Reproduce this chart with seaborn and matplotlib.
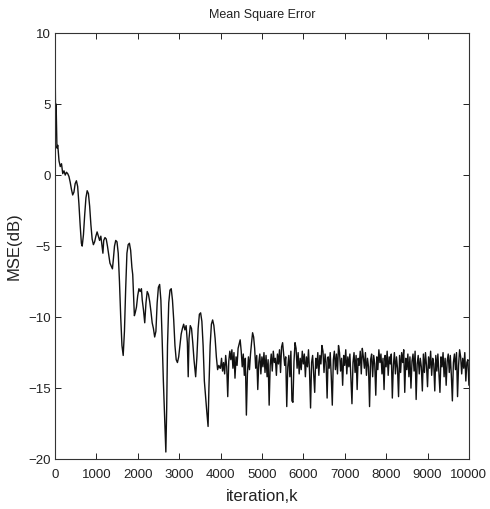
import numpy as np
import pandas as pd
import seaborn as sns
import matplotlib.pyplot as plt

# early part of the learning curve
early_k = [0, 10, 20, 30, 50, 70, 100, 130, 160, 190, 220, 250, 280, 310, 340, 370,
           400, 430, 460, 490, 520, 550, 580, 610, 640, 660, 690, 720, 750, 780, 810,
           840, 870, 900, 930, 960, 990, 1020, 1050, 1080, 1110, 1140, 1160, 1180,
           1210, 1240, 1270, 1300, 1330, 1360, 1390, 1410, 1440, 1470, 1500, 1530,
           1560, 1590, 1620, 1650, 1680, 1710, 1740, 1770, 1800, 1830, 1860, 1880,
           1900, 1920, 1940, 1970, 2000, 2030, 2060, 2090, 2110, 2140, 2170, 2200,
           2230, 2260, 2290, 2320, 2350, 2380, 2410, 2440, 2470, 2500, 2530, 2560,
           2590, 2620, 2650, 2680, 2700, 2720, 2750, 2780, 2810, 2840, 2870, 2900,
           2930, 2960, 2990, 3020, 3050, 3080, 3110, 3140, 3170, 3200, 3220, 3240,
           3270, 3300, 3330, 3360, 3400, 3430, 3460, 3490, 3520, 3550, 3580, 3610,
           3640, 3670, 3700, 3720, 3750, 3780, 3810, 3840, 3870, 3900, 3930, 3960, 3990]
early_mse = [2.0, 6.3, 3.0, 5.0, 1.9, 2.1, 1.0, 0.6, 0.8, 0.1, 0.3, 0.0, 0.2, 0.1, -0.1, -0.5,
             -1.0, -1.4, -1.2, -0.6, -0.4, -0.8, -2.0, -3.5, -4.8, -5.0, -4.2, -2.8, -1.6, -1.1, -1.3,
             -2.2, -3.5, -4.5, -4.9, -4.7, -4.3, -4.0, -4.3, -4.6, -4.3, -5.0, -5.5, -4.6,
             -4.4, -4.5, -5.0, -5.6, -6.2, -6.4, -6.6, -6.0, -5.0, -4.6, -4.7, -5.5,
             -7.5, -10.0, -12.0, -12.7, -11.0, -8.0, -5.5, -4.9, -4.8, -5.3, -6.5, -7.0,
             -8.5, -9.9, -9.7, -9.3, -8.5, -8.0, -8.2, -8.0, -8.8, -9.5, -10.4, -9.0,
             -8.2, -8.4, -8.9, -9.6, -10.4, -10.8, -11.4, -11.0, -9.0, -7.9, -7.7, -8.8,
             -11.5, -14.5, -17.0, -19.5, -16.5, -12.0, -9.0, -8.1, -8.0, -8.8, -10.2, -12.0,
             -13.0, -13.2, -12.8, -12.0, -11.2, -10.8, -10.5, -10.9, -10.6, -11.8, -14.2, -11.5,
             -10.6, -10.8, -11.8, -13.0, -14.2, -12.8, -10.8, -9.8, -9.7, -10.3, -12.0, -14.5,
             -15.6, -16.7, -17.7, -15.0, -12.0, -10.5, -10.2, -10.6, -11.5, -12.8, -13.7, -13.4, -13.6]

# steady state, one value every 25 iterations from 4000 to 10000
late_k = np.arange(4000, 10001, 25)
late_mse = [
    -13.6, -12.9, -13.8, -13.2, -14.0, -12.7, -13.5, -15.6, -13.1, -12.4,
    -13.0, -12.3, -13.6, -12.5, -14.3, -12.8, -13.4, -12.2, -11.9, -11.6,
    -12.4, -13.5, -12.6, -14.1, -12.9, -16.9, -14.0, -12.8, -13.7, -12.6,
    -11.8, -11.1, -11.4, -12.2, -13.6, -12.7, -15.1, -13.2, -12.6, -14.0,
    -12.8, -13.5, -12.5, -13.9, -12.7, -14.2, -13.0, -16.2, -13.4, -12.6,
    -13.8, -12.4, -13.2, -12.9, -14.1, -12.6, -13.3, -12.3, -13.9, -12.1,
    -11.8, -12.6, -13.4, -12.8, -16.3, -13.5, -12.7, -14.2, -12.4, -15.9,
    -16.0, -13.1, -11.8, -12.2, -13.6, -12.5, -14.0, -12.9, -13.7, -12.4,
    -13.3, -12.6, -14.2, -12.8, -13.5, -12.3, -13.8, -16.4, -13.2, -12.7,
    -14.0, -15.3, -12.9, -13.6, -12.5, -14.1, -12.7, -13.3, -12.0, -12.4,
    -13.9, -12.6, -13.2, -15.7, -12.8, -13.6, -12.5, -14.2, -16.2, -13.0,
    -12.4, -13.7, -12.6, -14.0, -12.0, -12.5, -13.8, -12.9, -14.8, -12.7,
    -13.4, -12.3, -14.0, -12.8, -13.5, -12.6, -14.3, -16.1, -13.2, -12.5,
    -13.9, -12.7, -15.1, -12.9, -13.4, -12.4, -14.0, -12.2, -12.8, -13.6,
    -12.5, -14.1, -12.9, -13.5, -16.3, -13.0, -12.6, -14.2, -12.7, -13.3,
    -15.5, -12.8, -13.7, -12.3, -13.2, -12.6, -14.0, -12.9, -15.1, -12.7,
    -13.5, -12.4, -14.1, -12.8, -13.3, -12.6, -15.7, -13.4, -12.5, -14.0,
    -12.8, -13.6, -15.6, -12.7, -13.9, -12.5, -13.2, -12.3, -15.3, -12.9,
    -13.7, -12.6, -14.2, -12.8, -15.0, -13.1, -12.6, -13.8, -12.4, -15.8,
    -13.3, -12.7, -14.0, -12.9, -13.5, -15.2, -12.6, -13.9, -12.5, -13.4,
    -14.9, -12.8, -13.6, -12.4, -14.1, -12.9, -13.3, -15.2, -12.7, -13.8,
    -12.6, -14.0, -15.3, -12.8, -13.5, -12.5, -14.2, -12.9, -14.8, -13.1,
    -12.6, -13.9, -12.7, -14.1, -15.9, -13.2, -12.6, -13.7, -12.5, -15.6,
    -13.4, -12.3, -12.8, -14.0, -12.9, -13.6, -12.5, -14.5, -13.2, -13.0,
    -14.8]

xticks = [0, 1000, 2000, 3000, 4000, 5000, 6000, 7000, 8000, 9000, 10000]
yticks = [-20, -15, -10, -5, 0, 5, 10]

df = pd.DataFrame({'k': list(early_k) + list(late_k),
                   'mse': early_mse + late_mse})

sns.set_style('white')
plt.rcParams['font.family'] = ['Liberation Sans', 'DejaVu Sans']
plt.rcParams['xtick.direction'] = 'in'
plt.rcParams['ytick.direction'] = 'in'

fig = plt.figure(figsize=(4.9, 5.09), dpi=100)
ax = fig.add_axes([0.112, 0.098, 0.845, 0.837])

sns.lineplot(data=df, x='k', y='mse', estimator=None, sort=False,
             color='#111111', lw=1.0, ax=ax)

ax.set_xlim(0, 10000)
ax.set_ylim(-20, 10)
ax.set_xticks(xticks)
ax.set_yticks(yticks)
ax.tick_params(top=True, right=True, bottom=True, left=True, length=4,
               width=0.7, labelsize=9.5, pad=3, colors='#222222')
ax.tick_params(axis='x', pad=7)
for s in ax.spines.values():
    s.set_linewidth(0.8)
    s.set_color('#333333')

ax.set_title('Mean Square Error', fontsize=9, pad=11, color='#222222')
ax.set_xlabel('iteration,k', fontsize=12, labelpad=6, color='#222222')
ax.set_ylabel('MSE(dB)', fontsize=12, labelpad=5, color='#222222')

fig.savefig('out.png', dpi=100)
